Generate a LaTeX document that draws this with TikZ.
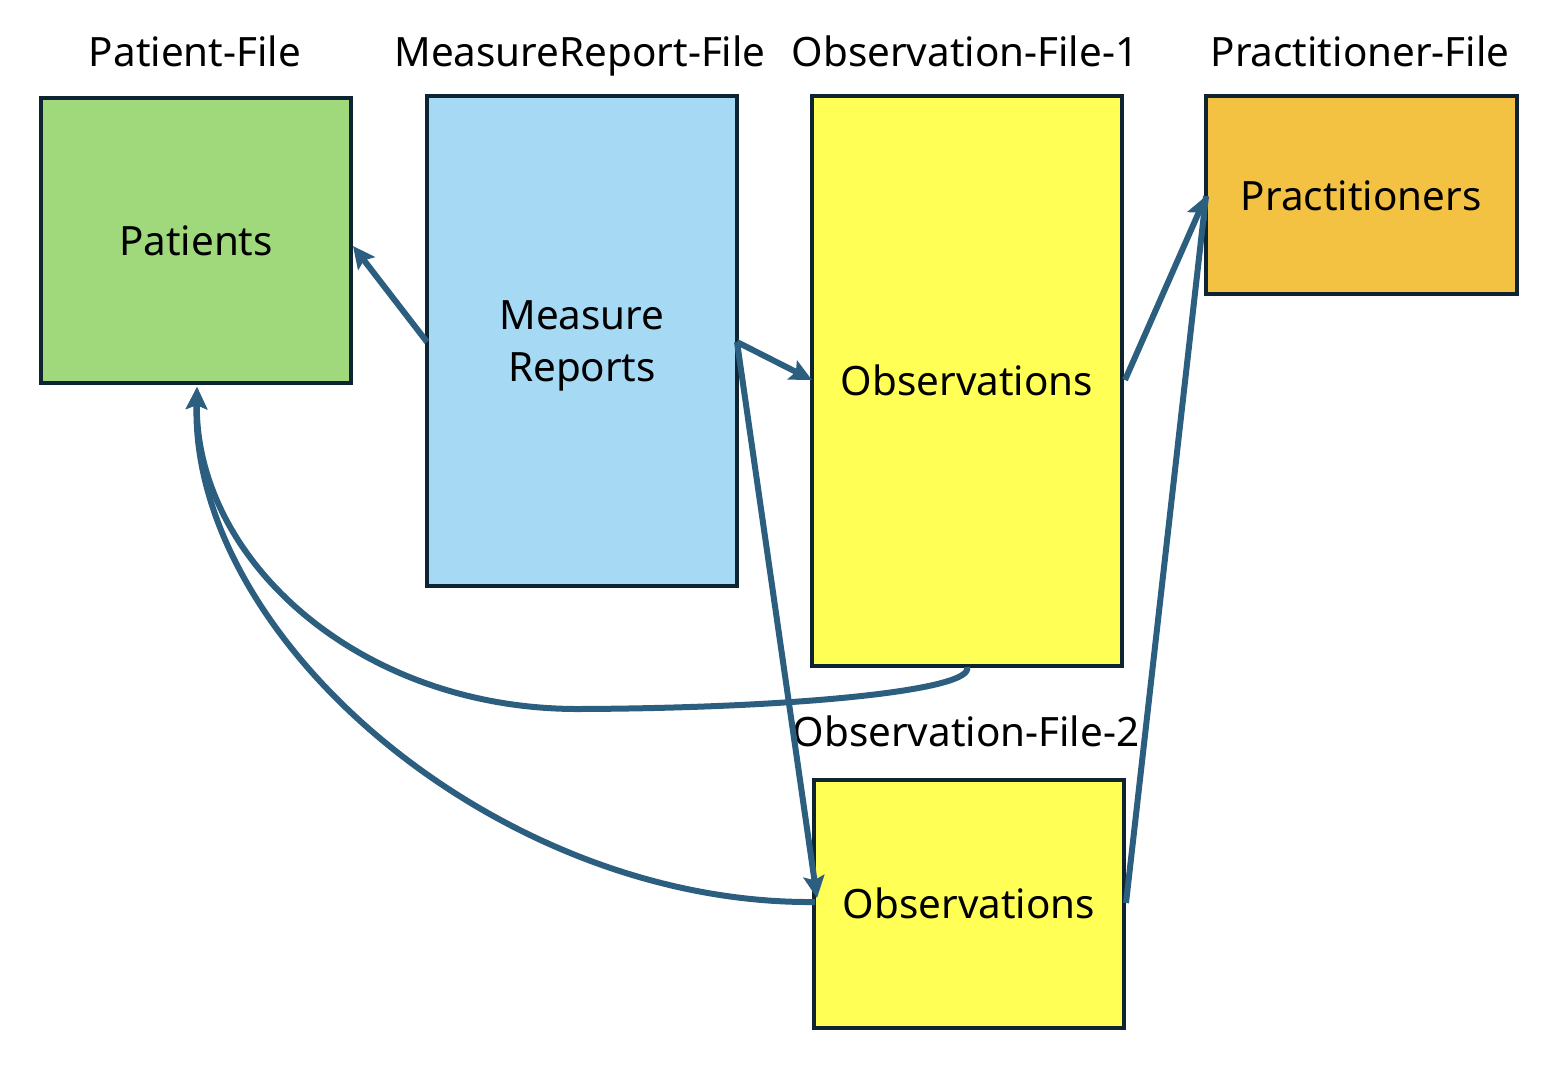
\documentclass[tikz,border=0pt]{standalone}
\usepackage{fontspec}
\setmainfont{Noto Sans}
\usetikzlibrary{arrows.meta}
\definecolor{edgeblue}{HTML}{2C5F7F}
\definecolor{boxline}{HTML}{0E2433}
\definecolor{patgreen}{HTML}{A0D87C}
\definecolor{mrblue}{HTML}{A6DAF4}
\definecolor{obsyellow}{HTML}{FFFF55}
\definecolor{practorange}{HTML}{F4C242}
\begin{document}
\begin{tikzpicture}[x=0.5pt,y=-0.5pt,
  filebox/.style={draw=boxline, line width=1.75pt, inner sep=0pt, align=center},
  boxtext/.style={inner sep=0pt, align=center, anchor=base,
    font=\fontsize{20.2}{26}\selectfont},
  filetitle/.style={font=\fontsize{20.2}{24}\selectfont, inner sep=0pt, anchor=base},
  link/.style={draw=edgeblue, line width=3pt,
    -{Stealth[length=11pt,width=10.5pt,inset=2pt]}},
  plain/.style={draw=edgeblue, line width=3pt}]
\useasboundingbox (0,0) rectangle (1558,1076);

% file boxes
\node[filebox, fill=patgreen, minimum width=155pt, minimum height=142.5pt] (pat) at (196,240.5) {};
\node[filebox, fill=mrblue, minimum width=155pt, minimum height=245pt] (mr) at (582,341) {};
\node[filebox, fill=obsyellow, minimum width=155pt, minimum height=285pt] (obs1) at (967,381) {};
\node[filebox, fill=practorange, minimum width=155.5pt, minimum height=99pt] (prac) at (1361.5,195) {};
\node[filebox, fill=obsyellow, minimum width=155pt, minimum height=124pt] (obs2) at (969,904) {};

% box contents
\node[boxtext] (patT) at (196,255) {Patients};
\node[boxtext] (mrT1) at (582,329) {Measure};
\node[boxtext] (mrT2) at (582,381) {Reports};
\node[boxtext] (obs1T) at (967,395) {Observations};
\node[boxtext] (pracT) at (1361,210) {Practitioners};
\node[boxtext] (obs2T) at (969,918) {Observations};

% file titles
\node[filetitle] (patL) at (195,66) {Patient-File};
\node[filetitle] (mrL) at (580,66) {MeasureReport-File};
\node[filetitle] (obs1L) at (965,66) {Observation-File-1};
\node[filetitle] (pracL) at (1360,66) {Practitioner-File};
\node[filetitle] (obs2L) at (966,746) {Observation-File-2};

% references
\coordinate (mrW) at (427,342);
\coordinate (mrE) at (737,342);
\coordinate (patE) at (353,246);
\coordinate (patS) at (197,387);
\coordinate (obs1W) at (812,380);
\coordinate (obs1E) at (1125,380);
\coordinate (obs1S) at (967,667);
\coordinate (obs2W) at (815,902);
\coordinate (obs2Wt) at (817,898);
\coordinate (obs2E) at (1126,903);
\coordinate (pracW) at (1206,196);

\draw[link] (mrW) -- (patE);
\draw[link] (mrE) -- (obs1W);
\draw[link] (mrE) -- (obs2Wt);
\draw[link] (obs1E) -- (pracW);
\draw[plain] (obs2E) -- (pracW);
\draw[link] (obs1S) .. controls (975,690) and (800,708) .. (580,709)
  .. controls (360,710) and (195,560) .. (patS);
\draw[link] (obs2W) .. controls (500,905) and (190,640) .. (patS);
\end{tikzpicture}
\end{document}
